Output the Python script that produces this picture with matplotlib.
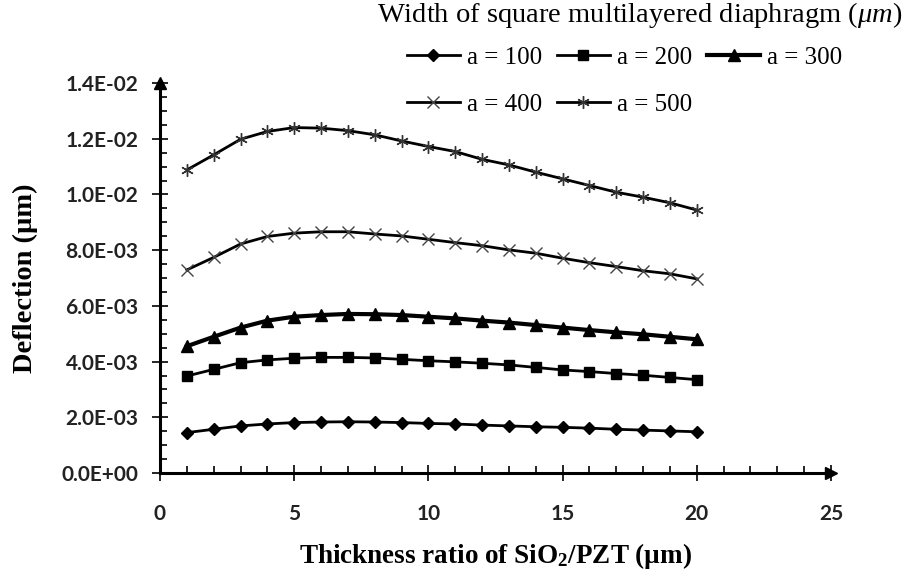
import numpy as np
import matplotlib.pyplot as plt
from matplotlib.ticker import MultipleLocator, FuncFormatter

plt.rcParams['mathtext.fontset'] = 'custom'
plt.rcParams['mathtext.rm'] = 'Liberation Serif'
plt.rcParams['mathtext.it'] = 'Liberation Serif:italic'
plt.rcParams['mathtext.bf'] = 'Liberation Serif:bold'

# Thickness ratio SiO2/PZT
ratio = np.arange(1, 21)

# Deflection (um) for each diaphragm width a
defl_100 = [0.00145, 0.00157, 0.00169, 0.00176, 0.00181, 0.00183, 0.00184, 0.00183, 0.00181, 0.00178,
            0.00176, 0.00172, 0.00169, 0.00166, 0.00164, 0.00161, 0.00157, 0.00154, 0.00151, 0.00148]
defl_200 = [0.00348, 0.00372, 0.00396, 0.00406, 0.00412, 0.00415, 0.00415, 0.00413, 0.00408, 0.00403,
            0.00399, 0.00394, 0.00388, 0.00379, 0.00370, 0.00364, 0.00357, 0.00351, 0.00343, 0.00335]
defl_300 = [0.00455, 0.00489, 0.00522, 0.00547, 0.00561, 0.00567, 0.00571, 0.00570, 0.00567, 0.00561,
            0.00555, 0.00547, 0.00540, 0.00531, 0.00522, 0.00513, 0.00505, 0.00498, 0.00489, 0.00480]
defl_400 = [0.00729, 0.00774, 0.00822, 0.00849, 0.00861, 0.00866, 0.00866, 0.00858, 0.00851, 0.00839,
            0.00827, 0.00816, 0.00801, 0.00789, 0.00771, 0.00755, 0.00741, 0.00726, 0.00715, 0.00697]
defl_500 = [0.01088, 0.01142, 0.01198, 0.01226, 0.01240, 0.01238, 0.01229, 0.01214, 0.01192, 0.01172,
            0.01154, 0.01126, 0.01106, 0.01080, 0.01056, 0.01032, 0.01008, 0.00990, 0.00970, 0.00944]

fig = plt.figure(figsize=(9.15, 5.73), dpi=100)
ax = fig.add_axes([160 / 915, 100 / 573, 671 / 915, 390 / 573])

l100, = ax.plot(ratio, defl_100, color='black', lw=2, marker='D', ms=6, label='a = 100')
l200, = ax.plot(ratio, defl_200, color='black', lw=2, marker='s', ms=6.5, label='a = 200')
l300, = ax.plot(ratio, defl_300, color='black', lw=3, marker='^', ms=8, label='a = 300')
l400, = ax.plot(ratio, defl_400, color='black', lw=2, marker='x', ms=8, mec='#444444', mew=1, label='a = 400')
l500, = ax.plot(ratio, defl_500, color='black', lw=2, marker=(6, 2, 0), ms=9, mec='#333333', mew=1, label='a = 500')

ax.set_xlim(0, 25)
ax.set_ylim(0, 0.014)
ax.xaxis.set_major_locator(MultipleLocator(5))
ax.xaxis.set_minor_locator(MultipleLocator(1))
ax.yaxis.set_major_locator(MultipleLocator(0.002))
ax.yaxis.set_minor_locator(MultipleLocator(0.0005))
ax.yaxis.set_major_formatter(FuncFormatter(lambda v, p: f"{v:.1E}"))

for s in ['top', 'right']:
    ax.spines[s].set_visible(False)
for s in ['left', 'bottom']:
    ax.spines[s].set_linewidth(2.2)

ax.tick_params(which='major', direction='inout', length=11, width=1.2)
ax.tick_params(which='minor', direction='in', length=5, width=1.2)
ax.tick_params(axis='x', which='major', pad=17)
ax.tick_params(axis='y', which='major', pad=10)
for lab in ax.get_xticklabels() + ax.get_yticklabels():
    lab.set_fontfamily('Lato')
    lab.set_fontweight('bold')
    lab.set_fontsize(15)
    lab.set_color('#222222')

# arrowheads at the ends of both axes
ax.plot(1, 0, marker='>', ms=9, color='black', transform=ax.transAxes, clip_on=False)
ax.plot(0, 1, marker='^', ms=9, color='black', transform=ax.transAxes, clip_on=False)

ax.set_xlabel('Thickness ratio of SiO$_\\mathbf{2}$/PZT (µm)', family='Liberation Serif',
              fontweight='bold', fontsize=19.5, labelpad=12)
ax.set_ylabel('Deflection (µm)', family='Liberation Serif', fontweight='bold', fontsize=20.5, labelpad=17)

fig.text(640 / 915, 1 - 15 / 573, r'Width of square multilayered diaphragm ($\mu m$)',
         family='Liberation Serif', fontsize=20.5, ha='center', va='center')
fig.legend(handles=[l100, l400, l200, l500, l300], ncol=3, frameon=False,
           loc='upper left', bbox_to_anchor=(407 / 915, 1 - 46 / 573),
           borderpad=0, borderaxespad=0, handlelength=2.1, handletextpad=0.3,
           columnspacing=0.6, labelspacing=1.0,
           prop={'family': 'Liberation Serif', 'size': 18})

fig.savefig('out.png', dpi=100)
